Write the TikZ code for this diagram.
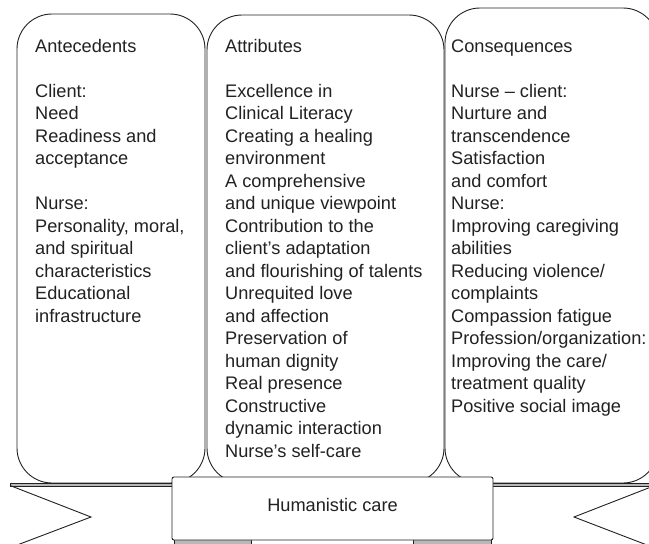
\documentclass[tikz,border=0pt]{standalone}
\usepackage{fontspec}
\setmainfont{Liberation Sans}
\usepackage{tikz}
\usetikzlibrary{calc}
\definecolor{trait}{gray}{0.13}
\definecolor{gris}{gray}{0.72}
\tikzstyle{cadre}           =[draw=trait, line width=0.9pt, rounded corners=35pt]
\tikzstyle{texte}           =[anchor=north west, inner sep=0pt, align=left, text=trait, font=\fontsize{18.2}{22.5}\selectfont]
\tikzstyle{ruban}           =[draw=trait, line width=0.8pt, fill=gris]
\tikzstyle{queue}           =[draw=trait, line width=0.9pt, line join=miter]
\tikzstyle{banniere}        =[draw=trait, line width=0.9pt, fill=white, rounded corners=2pt, minimum width=321pt, minimum height=63pt, inner sep=0pt]

\begin{document}
\begin{tikzpicture}[x=1pt,y=-1pt]

%%%%%%%%%%%%%%%%%%%%%%%%
%Paramètres : les coordonnées sont en pixels de l'image
%%%%%%%%%%%%%%%%%%%%%%%%

\def \ytexte {36.3}; %haut de la première ligne de chaque colonne
\def \saut {22.5pt}; %ligne vide entre deux blocs

\clip (0,0) rectangle (649,544);

%%%%%%%%%%%%%%%%%%%%%%%%
%Le ruban derrière les cadres
%%%%%%%%%%%%%%%%%%%%%%%%
\filldraw[ruban] (10,483) rectangle (660,486);
\draw[queue] (10,485.5) -- (91,517) -- (4,550); %queue gauche
\draw[queue] (660,483.5) -- (574,517) -- (660,550); %queue droite

%%%%%%%%%%%%%%%%%%%%%%%%
%Les trois cadres arrondis
%%%%%%%%%%%%%%%%%%%%%%%%
\coordinate (A) at (17,14);
\coordinate (B) at (205,483);
\coordinate (C) at (207,15);
\coordinate (D) at (444,483);
\coordinate (E) at (445,8);
\coordinate (F) at (658,483);
\draw[cadre] (A) rectangle (B);
\draw[cadre] (C) rectangle (D);
\draw[cadre] (E) rectangle (F);

%contenu des colonnes
\node[texte] (ante) at (35,\ytexte) {\strut Antecedents\\[\saut]Client:\\Need\\Readiness and\\acceptance\\[\saut]Nurse:\\Personality, moral,\\and spiritual\\characteristics\\Educational\\infrastructure};
\node[texte] (attr) at (225,\ytexte) {\strut Attributes\\[\saut]Excellence in\\Clinical Literacy\\Creating a healing\\environment\\A comprehensive\\and unique viewpoint\\Contribution to the\\client’s adaptation\\and flourishing of talents\\Unrequited love\\and affection\\Preservation of\\human dignity\\Real presence\\Constructive\\dynamic interaction\\Nurse’s self-care};
\node[texte] (cons) at (451,\ytexte) {\strut Consequences\\[\saut]Nurse – client:\\Nurture and\\transcendence\\Satisfaction\\and comfort\\Nurse:\\Improving caregiving\\abilities\\Reducing violence/\\complaints\\Compassion fatigue\\Profession/organization:\\Improving the care/\\treatment quality\\Positive social image};

%%%%%%%%%%%%%%%%%%%%%%%%
%Le bandeau central
%%%%%%%%%%%%%%%%%%%%%%%%
\filldraw[ruban] (174,538) rectangle (251,550); %repli gauche
\filldraw[ruban] (413,538) rectangle (491,550); %repli droit
\node[banniere] (bandeau) at (332.5,508.5) {};
\node[texte, anchor=center] (titre) at (332.5,505) {Humanistic care};

\end{tikzpicture}
\end{document}
